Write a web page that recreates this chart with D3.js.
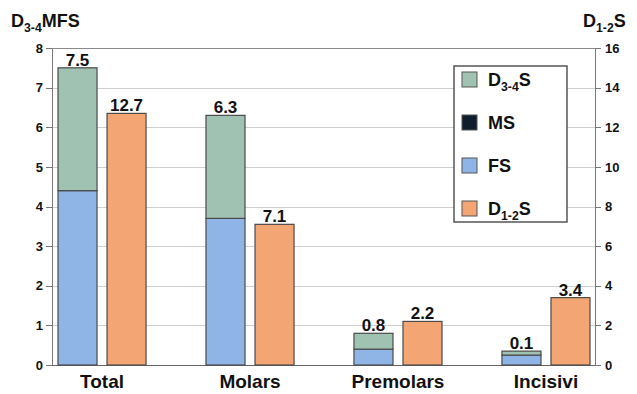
<!DOCTYPE html>
<html lang="en">
<head>
  <meta charset="UTF-8">
  <title>D3-4MFS and D1-2S per tooth group</title>
  <style>
  body { margin: 0; background: #fff; }
  #chart text {
      font-family: "Liberation Sans", Arial, sans-serif;
      font-weight: bold;
      fill: #111;
  }
  #chart .axis path, #chart .axis line {
      fill: none;
      stroke: #777;
      shape-rendering: crispEdges;
  }
  #chart .grid line {
      stroke: #cfcfcf;
      shape-rendering: crispEdges;
  }
  #chart .bar {
      stroke: #4a4a4a;
      stroke-width: 1.2px;
  }
  </style>
</head>
<body>
<div id="chart"></div>
<script src="https://d3js.org/d3.v7.min.js"></script>
<script>
// data
var categories = ["Total", "Molars", "Premolars", "Incisivi"];
var fsValues  = [4.4, 3.7, 0.4, 0.25];   // FS (left axis)
var msValues  = [0, 0, 0, 0];             // MS (left axis)
var d34Values = [3.1, 2.6, 0.4, 0.1];    // D3-4S (left axis)
var d12Values = [12.7, 7.1, 2.2, 3.4];   // D1-2S (right axis)
var stackLabels = ["7.5", "6.3", "0.8", "0.1"];
var leftTicks  = [0, 1, 2, 3, 4, 5, 6, 7, 8];
var rightTicks = [0, 2, 4, 6, 8, 10, 12, 14, 16];

var colors = { D34: "#a0c2b2", MS: "#0f1e2c", FS: "#8fb5e6", D12: "#f4a574" };
var legendItems = [
  { key: "D34", main: "D", sub: "3-4", tail: "S" },
  { key: "MS",  main: "MS", sub: "", tail: "" },
  { key: "FS",  main: "FS", sub: "", tail: "" },
  { key: "D12", main: "D", sub: "1-2", tail: "S" }
];

var w = 637, h = 394;
var plotL = 52, plotR = 595, plotT = 48, plotB = 365;

var rows = categories.map(function(c, i) {
  return { cat: c, FS: fsValues[i], MS: msValues[i], D34: d34Values[i], D12: d12Values[i] };
});

var svg = d3.select("#chart").append("svg")
    .attr("width", w)
    .attr("height", h);

var yLeft = d3.scaleLinear().domain([0, 8]).range([plotB, plotT]);
var yRight = d3.scaleLinear().domain([0, 16]).range([plotB, plotT]);

//group positions
var x = d3.scaleBand()
    .domain(categories)
    .range([58, 590])
    .paddingInner(0.405)
    .paddingOuter(0);
var xSub = d3.scaleBand()
    .domain(["stack", "d12"])
    .range([0, x.bandwidth()])
    .paddingInner(0.204)
    .paddingOuter(0);

//gridlines
svg.append("g")
    .attr("class", "grid")
    .selectAll("line")
    .data(leftTicks.slice(1, -1))
    .enter().append("line")
    .attr("x1", plotL).attr("x2", plotR)
    .attr("y1", function(d) { return Math.round(yLeft(d)) + 0.5; })
    .attr("y2", function(d) { return Math.round(yLeft(d)) + 0.5; });

//top frame line
svg.append("line")
    .attr("x1", plotL).attr("x2", plotR)
    .attr("y1", plotT + 0.5).attr("y2", plotT + 0.5)
    .attr("stroke", "#8a8a8a");

//axes
var leftAxis = svg.append("g")
    .attr("class", "axis")
    .attr("transform", "translate(" + plotL + ",0)")
    .call(d3.axisLeft(yLeft).tickValues(leftTicks).tickSize(6).tickPadding(3).tickSizeOuter(0));
leftAxis.selectAll("text").style("font-size", "13px");

var rightAxis = svg.append("g")
    .attr("class", "axis")
    .attr("transform", "translate(" + plotR + ",0)")
    .call(d3.axisRight(yRight).tickValues(rightTicks).tickSize(6).tickPadding(4).tickSizeOuter(0));
rightAxis.selectAll("text").style("font-size", "13px");

//baseline
svg.append("line")
    .attr("x1", plotL).attr("x2", plotR)
    .attr("y1", plotB + 0.5).attr("y2", plotB + 0.5)
    .attr("stroke", "#666");

//stacked bars
var stack = d3.stack().keys(["FS", "MS", "D34"]);
var series = stack(rows);

svg.append("g")
    .selectAll("g")
    .data(series)
    .enter().append("g")
    .attr("fill", function(s) { return colors[s.key]; })
    .selectAll("rect")
    .data(function(s) { return s.filter(function(d) { return d[1] - d[0] > 0; }); })
    .enter().append("rect")
    .attr("class", "bar")
    .attr("x", function(d) { return x(d.data.cat) + xSub("stack"); })
    .attr("y", function(d) { return yLeft(d[1]); })
    .attr("width", xSub.bandwidth())
    .attr("height", function(d) { return yLeft(d[0]) - yLeft(d[1]); });

//D1-2S bars on right axis
svg.append("g")
    .selectAll("rect")
    .data(rows)
    .enter().append("rect")
    .attr("class", "bar")
    .attr("fill", colors.D12)
    .attr("x", function(d) { return x(d.cat) + xSub("d12"); })
    .attr("y", function(d) { return yRight(d.D12); })
    .attr("width", xSub.bandwidth())
    .attr("height", function(d) { return yRight(0) - yRight(d.D12); });

//value labels
svg.append("g")
    .selectAll("text")
    .data(rows)
    .enter().append("text")
    .attr("x", function(d) { return x(d.cat) + xSub("stack") + xSub.bandwidth() / 2; })
    .attr("y", function(d) { return yLeft(d.FS + d.MS + d.D34) - 2; })
    .attr("text-anchor", "middle")
    .style("font-size", "17px")
    .text(function(d, i) { return stackLabels[i]; });

svg.append("g")
    .selectAll("text")
    .data(rows)
    .enter().append("text")
    .attr("x", function(d) { return x(d.cat) + xSub("d12") + xSub.bandwidth() / 2; })
    .attr("y", function(d) { return yRight(d.D12) - 2; })
    .attr("text-anchor", "middle")
    .style("font-size", "17px")
    .text(function(d) { return d.D12.toFixed(1); });

//category labels
svg.append("g")
    .selectAll("text")
    .data(categories)
    .enter().append("text")
    .attr("x", function(d) { return x(d) + x.bandwidth() / 2; })
    .attr("y", 388)
    .attr("text-anchor", "middle")
    .style("font-size", "19px")
    .text(function(d) { return d; });

//axis titles with subscripts
function subTitle(g, main, sub, tail, size) {
  var t = g.append("text").style("font-size", size + "px");
  t.append("tspan").text(main);
  if (sub) {
    t.append("tspan").attr("dy", size * 0.28).style("font-size", (size * 0.68) + "px").text(sub);
    t.append("tspan").attr("dy", -size * 0.28).text(tail);
  }
  return t;
}
subTitle(svg, "D", "3-4", "MFS", 18).attr("x", 11).attr("y", 27);
subTitle(svg, "D", "1-2", "S", 18).attr("x", 583).attr("y", 27);

//legend
var legend = svg.append("g").attr("transform", "translate(454,66)");
legend.append("rect")
    .attr("width", 113).attr("height", 156)
    .attr("fill", "#fff")
    .attr("stroke", "#555")
    .attr("stroke-width", 1.5);
var item = legend.selectAll("g.item")
    .data(legendItems)
    .enter().append("g")
    .attr("class", "item")
    .attr("transform", function(d, i) { return "translate(0," + (6 + i * 43) + ")"; });
item.append("rect")
    .attr("x", 8).attr("y", 0)
    .attr("width", 15).attr("height", 15)
    .attr("fill", function(d) { return colors[d.key]; })
    .attr("stroke", "#555");
item.each(function(d) {
  subTitle(d3.select(this), d.main, d.sub, d.tail, 18).attr("x", 34).attr("y", 14);
});
</script>
</body>
</html>
